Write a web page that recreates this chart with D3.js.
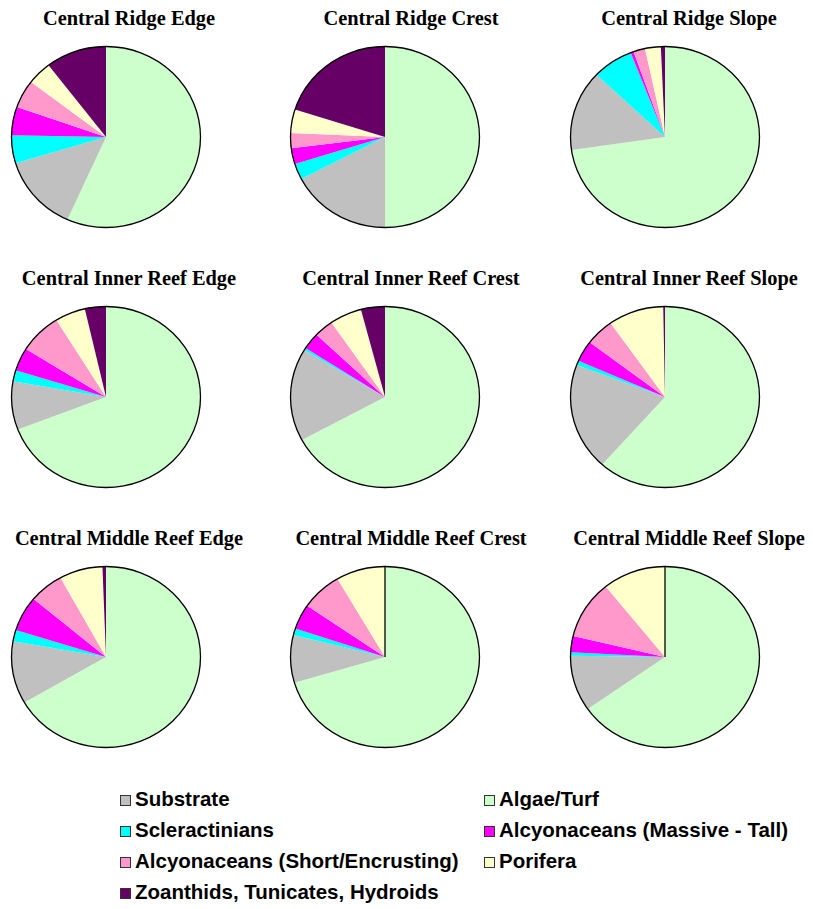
<!DOCTYPE html>
<html>
<head>
<meta charset="utf-8">
<script src="https://cdn.jsdelivr.net/npm/d3@7"></script>
<style>
  html, body { margin: 0; padding: 0; background: #ffffff; }
  svg { display: block; }
</style>
</head>
<body>
<svg id="chart" width="813" height="909"></svg>
<script>
// ---- DATA ----
const sites = [
  "Central Ridge Edge", "Central Ridge Crest", "Central Ridge Slope",
  "Central Inner Reef Edge", "Central Inner Reef Crest", "Central Inner Reef Slope",
  "Central Middle Reef Edge", "Central Middle Reef Crest", "Central Middle Reef Slope"
];
// categories in pie order (clockwise from 12 o'clock)
const categories = [
  "Algae/Turf", "Substrate", "Scleractinians", "Alcyonaceans (Massive - Tall)",
  "Alcyonaceans (Short/Encrusting)", "Porifera", "Zoanthids, Tunicates, Hydroids"
];
const colors = ["#ccffcc", "#c0c0c0", "#00ffff", "#ff00ff", "#ff99cc", "#ffffcc", "#660066"];
// legend order (indices into categories)
const legendOrder = [1, 0, 2, 3, 4, 5, 6];

// percent cover per site (same order as sites)
const algaeTurf     = [56.7, 50.0, 72.7, 69.1, 67.1, 61.7, 66.6, 70.4, 65.3];
const substrate     = [13.6, 17.3, 14.4,  8.6, 16.6, 19.2, 11.2,  8.5, 10.0];
const scleractinians= [ 5.0,  2.9,  7.0,  2.0,  0.4,  0.8,  2.0,  1.2,  0.6];
const alcyMassive   = [ 5.1,  2.8,  0.5,  4.1,  3.0,  3.8,  6.3,  4.5,  2.9];
const alcyShort     = [ 5.0,  2.7,  2.0,  7.3,  3.3,  4.9,  5.9,  7.0, 10.5];
const porifera      = [ 4.2,  4.2,  2.7,  5.2,  5.5,  9.5,  7.4,  8.4, 10.8];
const zoanthids     = [10.4, 20.1,  0.7,  3.6,  4.1,  0.3,  0.6,  0.0,  0.0];
const seriesValues = [algaeTurf, substrate, scleractinians, alcyMassive, alcyShort, porifera, zoanthids];

// ---- LAYOUT ----
const svg = d3.select("#chart");
const colX = [106, 385, 665];
const rowY = [137, 397, 657];
const titleX = [129, 411, 689];
const ry = 90.5, rx = 94.5;

const pie = d3.pie().sort(null).value(d => d.value);
const arc = d3.arc().innerRadius(0).outerRadius(ry);

sites.forEach((site, i) => {
  const c = i % 3, r = Math.floor(i / 3);
  const data = categories.map((cat, k) => ({ cat, value: seriesValues[k][i], color: colors[k] }));
  const arcs = pie(data);
  const g = svg.append("g")
    .attr("transform", `translate(${colX[c]},${rowY[r]}) scale(${rx / ry},1)`);
  g.selectAll("path.slice")
    .data(arcs)
    .enter().append("path")
    .attr("class", "slice")
    .attr("d", arc)
    .attr("fill", d => d.data.color);
  // zero-valued slices show as a radial border line
  g.selectAll("line.zero")
    .data(arcs.filter(d => d.data.value === 0))
    .enter().append("line")
    .attr("class", "zero")
    .attr("x1", 0).attr("y1", 0)
    .attr("x2", d => ry * Math.sin(d.startAngle))
    .attr("y2", d => -ry * Math.cos(d.startAngle))
    .attr("stroke", "#000")
    .attr("stroke-width", 1.3)
    .attr("vector-effect", "non-scaling-stroke");
  g.append("circle")
    .attr("r", ry)
    .attr("fill", "none")
    .attr("stroke", "#000")
    .attr("stroke-width", 1.3)
    .attr("vector-effect", "non-scaling-stroke");

  svg.append("text")
    .attr("x", titleX[c])
    .attr("y", rowY[r] - 112)
    .attr("text-anchor", "middle")
    .attr("font-family", "'Liberation Serif', 'Times New Roman', serif")
    .attr("font-weight", "bold")
    .attr("font-size", 20.4)
    .attr("fill", "#000")
    .text(site);
});

// ---- LEGEND ----
const legX = [120, 484];
const legTextX = [135, 499];
const legBase = 806, legStep = 31;
legendOrder.forEach((k, j) => {
  const col = j % 2, row = Math.floor(j / 2);
  const y = legBase + row * legStep;
  svg.append("rect")
    .attr("x", legX[col] + 0.5)
    .attr("y", y - 10.5)
    .attr("width", 10)
    .attr("height", 10)
    .attr("fill", colors[k])
    .attr("stroke", "#333")
    .attr("stroke-width", 1);
  svg.append("text")
    .attr("x", legTextX[col])
    .attr("y", y)
    .attr("font-family", "'Liberation Sans', Arial, sans-serif")
    .attr("font-weight", "bold")
    .attr("font-size", 20.5)
    .attr("fill", "#000")
    .text(categories[k]);
});
</script>
</body>
</html>
